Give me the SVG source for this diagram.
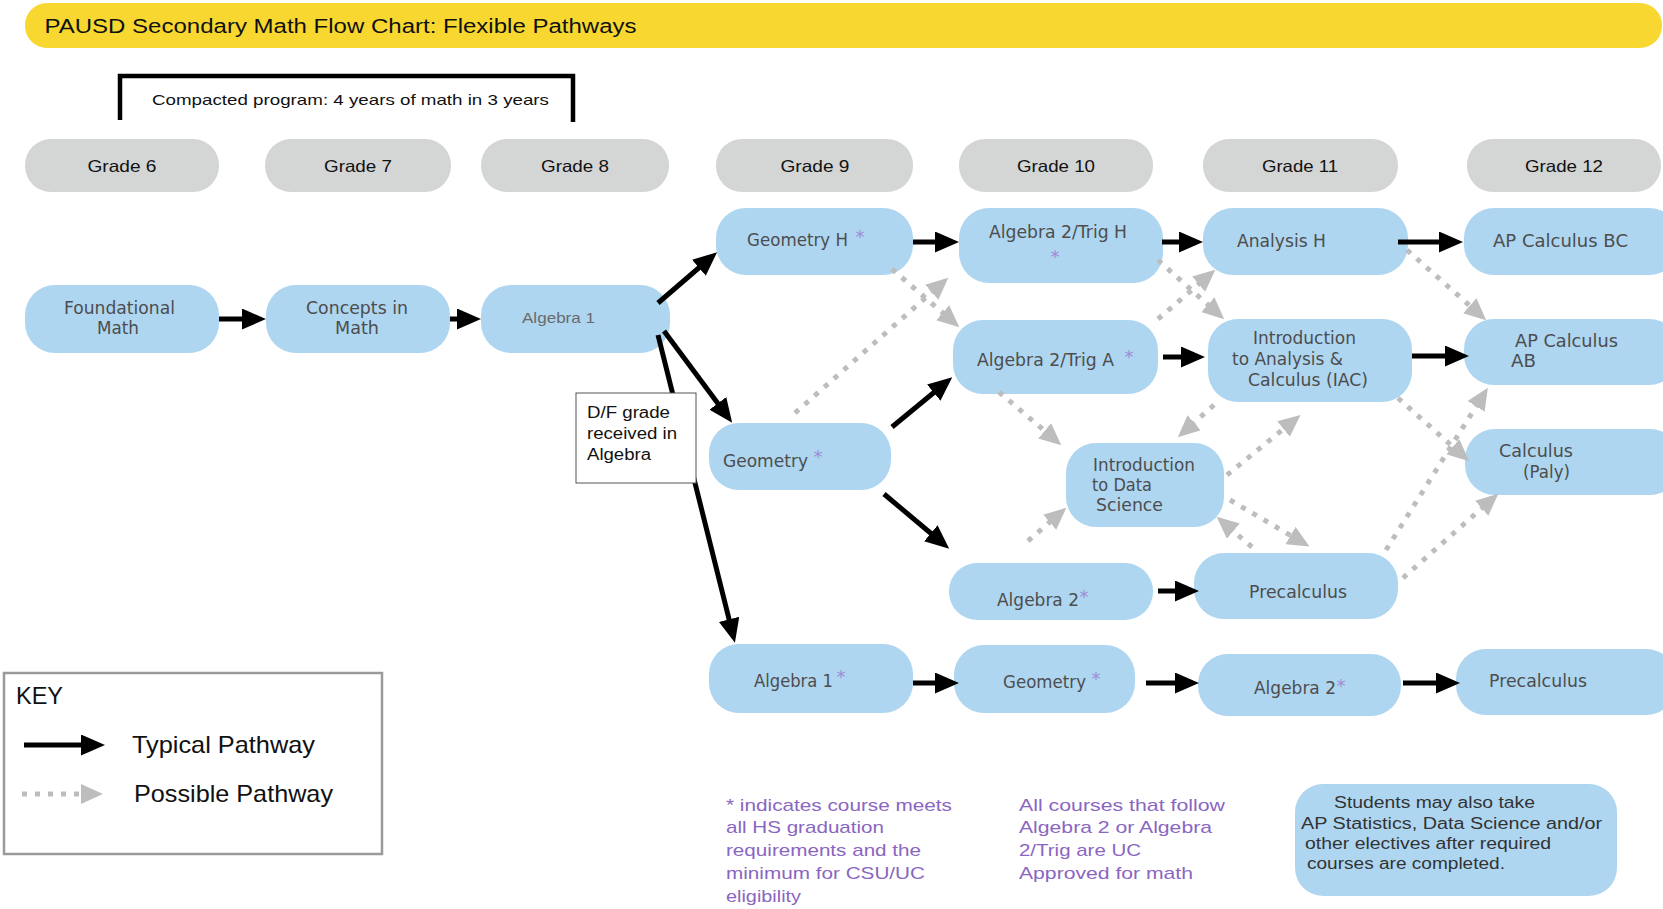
<svg xmlns="http://www.w3.org/2000/svg" width="1663" height="909" viewBox="0 0 1663 909">
<style>
.node rect{fill:#aed6f1}
.grade rect{fill:#d4d5d5}
.lbl{font-family:"DejaVu Sans",sans-serif;font-size:17px;fill:#4d4d4d}
.ast{font-family:"DejaVu Sans",sans-serif;font-size:18px;fill:#a08bd4;text-anchor:middle}
.hv{font-family:"Liberation Sans",Arial,sans-serif;fill:#111}
.gt{font-family:"Liberation Sans",Arial,sans-serif;font-size:16.5px;fill:#111;text-anchor:middle}
.note{font-family:"Liberation Sans",Arial,sans-serif;font-size:17px;fill:#8a66c2}
.typ{stroke:#000;stroke-width:5;fill:none;marker-end:url(#ah)}
.pos{stroke:#bdbdbd;stroke-width:5;fill:none;stroke-dasharray:5 8;marker-end:url(#gh)}
</style>
<defs>
<marker id="ah" markerUnits="userSpaceOnUse" markerWidth="24" markerHeight="21" refX="12" refY="10.5" orient="auto"><path d="M0,0 L24,10.5 L0,21 z" fill="#000"/></marker>
<marker id="gh" markerUnits="userSpaceOnUse" markerWidth="22" markerHeight="20" refX="11" refY="10" orient="auto"><path d="M0,0 L22,10 L0,20 z" fill="#bdbdbd"/></marker>
</defs>
<rect width="1663" height="909" fill="#fff"/>

<g id="title">
<rect x="25" y="3" width="1637" height="45" rx="22" fill="#f8d830"/>
<text class="hv" x="44.5" y="33" font-size="20" textLength="592" lengthAdjust="spacingAndGlyphs">PAUSD Secondary Math Flow Chart: Flexible Pathways</text>
</g>

<g id="compacted">
<path d="M120,120 V76 H573 V122" fill="none" stroke="#000" stroke-width="4.5"/>
<text class="hv" x="152" y="105" font-size="15" textLength="397" lengthAdjust="spacingAndGlyphs">Compacted program: 4 years of math in 3 years</text>
</g>

<g id="grade6" class="grade"><rect x="25" y="139" width="194" height="53" rx="26"/><text class="gt" x="122" y="172" textLength="69" lengthAdjust="spacingAndGlyphs">Grade 6</text></g>
<g id="grade7" class="grade"><rect x="265" y="139" width="186" height="53" rx="26"/><text class="gt" x="358" y="172" textLength="68" lengthAdjust="spacingAndGlyphs">Grade 7</text></g>
<g id="grade8" class="grade"><rect x="481" y="139" width="188" height="53" rx="26"/><text class="gt" x="575" y="172" textLength="68" lengthAdjust="spacingAndGlyphs">Grade 8</text></g>
<g id="grade9" class="grade"><rect x="716" y="139" width="197" height="53" rx="26"/><text class="gt" x="815" y="172" textLength="69" lengthAdjust="spacingAndGlyphs">Grade 9</text></g>
<g id="grade10" class="grade"><rect x="959" y="139" width="194" height="53" rx="26"/><text class="gt" x="1056" y="172" textLength="78" lengthAdjust="spacingAndGlyphs">Grade 10</text></g>
<g id="grade11" class="grade"><rect x="1203" y="139" width="195" height="53" rx="26"/><text class="gt" x="1300" y="172" textLength="76" lengthAdjust="spacingAndGlyphs">Grade 11</text></g>
<g id="grade12" class="grade"><rect x="1467" y="139" width="194" height="53" rx="26"/><text class="gt" x="1564" y="172" textLength="78" lengthAdjust="spacingAndGlyphs">Grade 12</text></g>

<g id="foundational" class="node"><rect x="25" y="285" width="194" height="68" rx="30"/>
<text class="lbl" x="64" y="314" textLength="111" lengthAdjust="spacingAndGlyphs">Foundational</text>
<text class="lbl" x="97" y="334" textLength="42" lengthAdjust="spacingAndGlyphs">Math</text></g>
<g id="concepts" class="node"><rect x="266" y="285" width="184" height="68" rx="30"/>
<text class="lbl" x="306" y="314" textLength="102" lengthAdjust="spacingAndGlyphs">Concepts in</text>
<text class="lbl" x="335" y="334" textLength="44" lengthAdjust="spacingAndGlyphs">Math</text></g>
<g id="algebra1-g8" class="node"><rect x="481" y="285" width="189" height="68" rx="30"/>
<text class="hv" x="522" y="323" font-size="15" style="fill:#6a6a6a" textLength="73" lengthAdjust="spacingAndGlyphs">Algebra 1</text></g>

<g id="geometryH" class="node"><rect x="716" y="208" width="197" height="67" rx="30"/>
<text class="lbl" x="747" y="246" textLength="101" lengthAdjust="spacingAndGlyphs">Geometry H</text><text class="ast" x="860" y="243">*</text></g>
<g id="geometry9" class="node"><rect x="709" y="423" width="182" height="67" rx="30"/>
<text class="lbl" x="723" y="467" textLength="85" lengthAdjust="spacingAndGlyphs">Geometry</text><text class="ast" x="818" y="463">*</text></g>
<g id="algebra1-g9" class="node"><rect x="709" y="644" width="204" height="69" rx="30"/>
<text class="lbl" x="754" y="687" textLength="79" lengthAdjust="spacingAndGlyphs">Algebra 1</text><text class="ast" x="841" y="683">*</text></g>

<g id="alg2trigH" class="node"><rect x="959" y="208" width="204" height="75" rx="30"/>
<text class="lbl" x="989" y="238" textLength="138" lengthAdjust="spacingAndGlyphs">Algebra 2/Trig H</text><text class="ast" x="1055" y="263">*</text></g>
<g id="alg2trigA" class="node"><rect x="953" y="320" width="205" height="74" rx="30"/>
<text class="lbl" x="977" y="366" textLength="137" lengthAdjust="spacingAndGlyphs">Algebra 2/Trig A</text><text class="ast" x="1129" y="363">*</text></g>
<g id="datasci" class="node"><rect x="1066" y="443" width="158" height="84" rx="30"/>
<text class="lbl" x="1093" y="471" textLength="102" lengthAdjust="spacingAndGlyphs">Introduction</text>
<text class="lbl" x="1092" y="491" textLength="60" lengthAdjust="spacingAndGlyphs">to Data</text>
<text class="lbl" x="1096" y="511" textLength="67" lengthAdjust="spacingAndGlyphs">Science</text></g>
<g id="algebra2-g10" class="node"><rect x="949" y="563" width="204" height="57" rx="28"/>
<text class="lbl" x="997" y="606" textLength="82" lengthAdjust="spacingAndGlyphs">Algebra 2</text><text class="ast" x="1084" y="603">*</text></g>
<g id="geometry10" class="node"><rect x="954" y="645" width="181" height="68" rx="30"/>
<text class="lbl" x="1003" y="688" textLength="83" lengthAdjust="spacingAndGlyphs">Geometry</text><text class="ast" x="1096" y="685">*</text></g>

<g id="analysisH" class="node"><rect x="1203" y="208" width="205" height="67" rx="30"/>
<text class="lbl" x="1237" y="247" textLength="89" lengthAdjust="spacingAndGlyphs">Analysis H</text></g>
<g id="iac" class="node"><rect x="1208" y="319" width="204" height="83" rx="30"/>
<text class="lbl" x="1253" y="344" textLength="103" lengthAdjust="spacingAndGlyphs">Introduction</text>
<text class="lbl" x="1232" y="365" textLength="111" lengthAdjust="spacingAndGlyphs">to Analysis &amp;</text>
<text class="lbl" x="1248" y="386" textLength="120" lengthAdjust="spacingAndGlyphs">Calculus (IAC)</text></g>
<g id="precalc11" class="node"><rect x="1194" y="553" width="204" height="66" rx="30"/>
<text class="lbl" x="1249" y="598" textLength="98" lengthAdjust="spacingAndGlyphs">Precalculus</text></g>
<g id="algebra2-g11" class="node"><rect x="1198" y="654" width="203" height="62" rx="30"/>
<text class="lbl" x="1254" y="694" textLength="82" lengthAdjust="spacingAndGlyphs">Algebra 2</text><text class="ast" x="1341" y="692">*</text></g>

<g id="apcalcBC" class="node"><rect x="1464" y="208" width="215" height="67" rx="30"/>
<text class="lbl" x="1493" y="247" textLength="135" lengthAdjust="spacingAndGlyphs">AP Calculus BC</text></g>
<g id="apcalcAB" class="node"><rect x="1464" y="319" width="215" height="66" rx="30"/>
<text class="lbl" x="1515" y="347" textLength="103" lengthAdjust="spacingAndGlyphs">AP Calculus</text>
<text class="lbl" x="1511" y="367" textLength="25" lengthAdjust="spacingAndGlyphs">AB</text></g>
<g id="calcPaly" class="node"><rect x="1465" y="429" width="215" height="66" rx="30"/>
<text class="lbl" x="1499" y="457" textLength="74" lengthAdjust="spacingAndGlyphs">Calculus</text>
<text class="lbl" x="1523" y="478" textLength="47" lengthAdjust="spacingAndGlyphs">(Paly)</text></g>
<g id="precalc12" class="node"><rect x="1456" y="649" width="220" height="66" rx="30"/>
<text class="lbl" x="1489" y="687" textLength="98" lengthAdjust="spacingAndGlyphs">Precalculus</text></g>

<g id="connectors">
<line class="typ" x1="219" y1="319" x2="254" y2="319"/>
<line class="typ" x1="450" y1="319" x2="469" y2="319"/>
<line class="typ" x1="658" y1="303" x2="708" y2="260"/>
<line class="typ" x1="664" y1="331" x2="725" y2="413"/>
<line class="typ" x1="658" y1="335" x2="732" y2="631"/>
<line class="typ" x1="913" y1="242" x2="947" y2="242"/>
<line class="typ" x1="1162" y1="242" x2="1191" y2="242"/>
<line class="typ" x1="1398" y1="242" x2="1451" y2="242"/>
<line class="typ" x1="892" y1="427" x2="943" y2="385"/>
<line class="typ" x1="1163" y1="357" x2="1193" y2="357"/>
<line class="typ" x1="1412" y1="356" x2="1457" y2="356"/>
<line class="typ" x1="884" y1="494" x2="940" y2="541"/>
<line class="typ" x1="1158" y1="591" x2="1187" y2="591"/>
<line class="typ" x1="913" y1="683" x2="947" y2="683"/>
<line class="typ" x1="1146" y1="683" x2="1187" y2="683"/>
<line class="typ" x1="1403" y1="683" x2="1448" y2="683"/>
<line class="pos" x1="892" y1="269" x2="951" y2="320"/>
<line class="pos" x1="795" y1="413" x2="940" y2="285"/>
<line class="pos" x1="1158" y1="260" x2="1216" y2="312"/>
<line class="pos" x1="1158" y1="319" x2="1207" y2="277"/>
<line class="pos" x1="999" y1="392" x2="1053" y2="438"/>
<line class="pos" x1="1214" y1="405" x2="1186" y2="430"/>
<line class="pos" x1="1028" y1="541" x2="1058" y2="515"/>
<line class="pos" x1="1227" y1="475" x2="1292" y2="422"/>
<line class="pos" x1="1230" y1="500" x2="1300" y2="541"/>
<line class="pos" x1="1252" y1="547" x2="1225" y2="524"/>
<line class="pos" x1="1407" y1="250" x2="1478" y2="313"/>
<line class="pos" x1="1398" y1="398" x2="1461" y2="454"/>
<line class="pos" x1="1386" y1="550" x2="1482" y2="397"/>
<line class="pos" x1="1403" y1="578" x2="1490" y2="501"/>
</g>

<g id="df-note">
<rect x="576" y="393" width="120" height="90" fill="#fff" stroke="#555" stroke-width="1"/>
<text class="hv" x="587" y="418" font-size="16" textLength="83" lengthAdjust="spacingAndGlyphs">D/F grade</text>
<text class="hv" x="587" y="439" font-size="16" textLength="90" lengthAdjust="spacingAndGlyphs">received in</text>
<text class="hv" x="587" y="460" font-size="16" textLength="64" lengthAdjust="spacingAndGlyphs">Algebra</text>
</g>

<g id="key">
<rect x="4" y="673" width="378" height="181" fill="#fff" stroke="#9a9a9a" stroke-width="2.5"/>
<text class="hv" x="16" y="704" font-size="23" textLength="47" lengthAdjust="spacingAndGlyphs">KEY</text>
<line class="typ" x1="24" y1="745" x2="93" y2="745"/>
<text class="hv" x="132" y="753" font-size="24" textLength="183" lengthAdjust="spacingAndGlyphs">Typical Pathway</text>
<line class="pos" x1="22" y1="794" x2="92" y2="794"/>
<text class="hv" x="134" y="802" font-size="24" textLength="199" lengthAdjust="spacingAndGlyphs">Possible Pathway</text>
</g>

<g id="note-asterisk">
<text class="note" x="726" y="811" textLength="226" lengthAdjust="spacingAndGlyphs">* indicates course meets</text>
<text class="note" x="726" y="833" textLength="158" lengthAdjust="spacingAndGlyphs">all HS graduation</text>
<text class="note" x="726" y="856" textLength="195" lengthAdjust="spacingAndGlyphs">requirements and the</text>
<text class="note" x="726" y="879" textLength="199" lengthAdjust="spacingAndGlyphs">minimum for CSU/UC</text>
<text class="note" x="726" y="902" textLength="75" lengthAdjust="spacingAndGlyphs">eligibility</text>
</g>
<g id="note-uc">
<text class="note" x="1019" y="811" textLength="206" lengthAdjust="spacingAndGlyphs">All courses that follow</text>
<text class="note" x="1019" y="833" textLength="193" lengthAdjust="spacingAndGlyphs">Algebra 2 or Algebra</text>
<text class="note" x="1019" y="856" textLength="122" lengthAdjust="spacingAndGlyphs">2/Trig are UC</text>
<text class="note" x="1019" y="879" textLength="174" lengthAdjust="spacingAndGlyphs">Approved for math</text>
</g>
<g id="note-electives" class="node">
<rect x="1295" y="784" width="322" height="112" rx="28"/>
<text class="hv" x="1334" y="808" font-size="16" style="fill:#333" textLength="201" lengthAdjust="spacingAndGlyphs">Students may also take</text>
<text class="hv" x="1301" y="829" font-size="16" style="fill:#333" textLength="301" lengthAdjust="spacingAndGlyphs">AP Statistics, Data Science and/or</text>
<text class="hv" x="1305" y="849" font-size="16" style="fill:#333" textLength="246" lengthAdjust="spacingAndGlyphs">other electives after required</text>
<text class="hv" x="1307" y="869" font-size="16" style="fill:#333" textLength="198" lengthAdjust="spacingAndGlyphs">courses are completed.</text>
</g>
</svg>
